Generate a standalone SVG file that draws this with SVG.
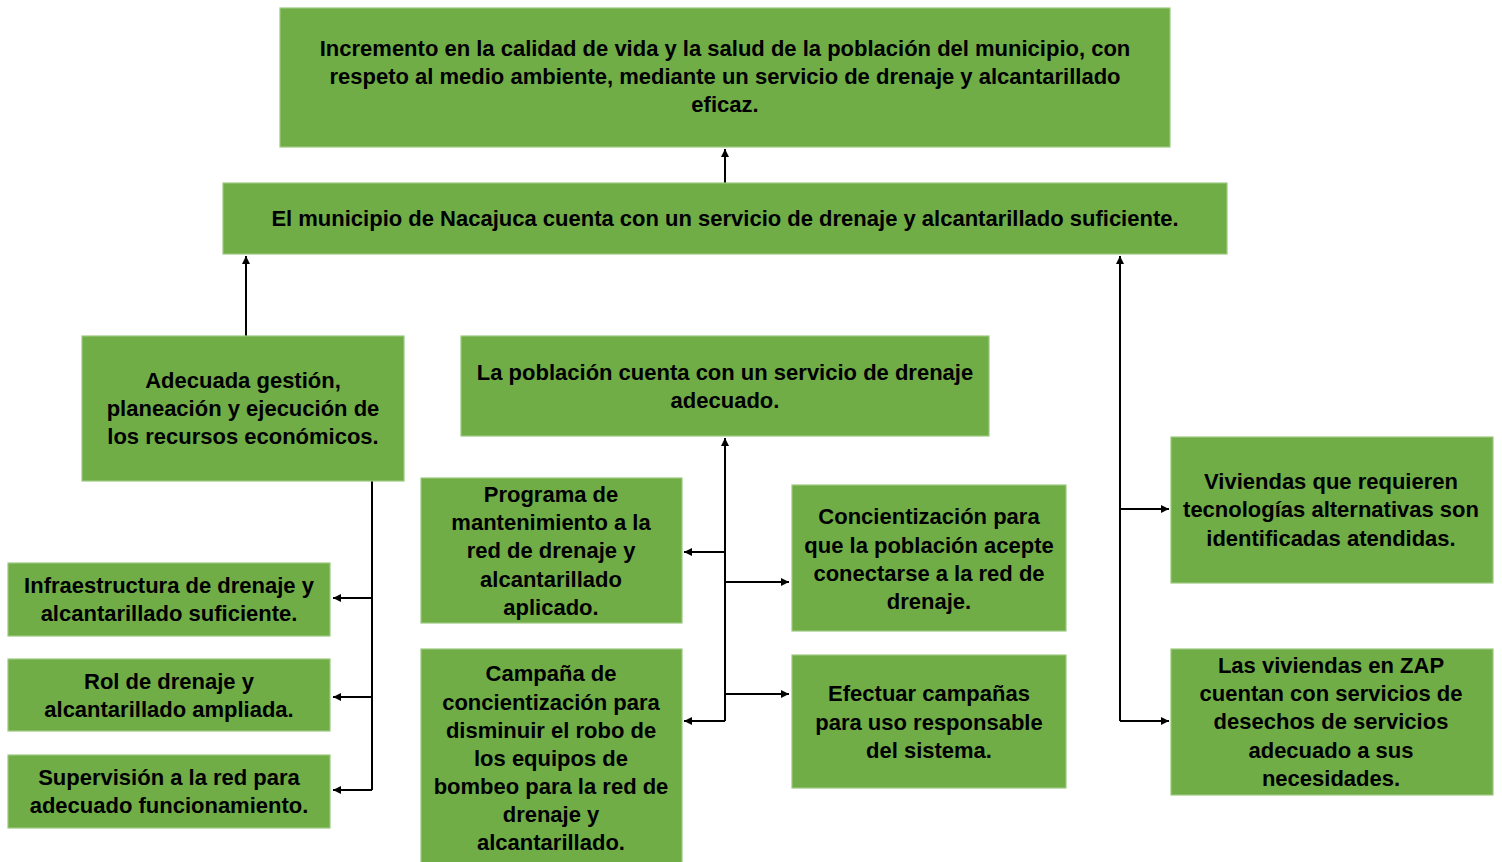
<svg xmlns="http://www.w3.org/2000/svg" width="1502" height="862" viewBox="0 0 1502 862">
<style>
.box{fill:#70AD47;stroke:#9CC97F;stroke-width:1.2}
text{font-family:"Liberation Sans",Arial,sans-serif;font-weight:bold;font-size:22px;fill:#000;text-anchor:middle}
.ln{fill:none;stroke:#000;stroke-width:2}
</style>
<defs>
<marker id="ah" markerUnits="userSpaceOnUse" markerWidth="10" markerHeight="10" refX="8" refY="4" orient="auto">
<path d="M0,0 L8,4 L0,8 Z" fill="#000"/>
</marker>
</defs>
<rect width="1502" height="862" fill="#fff"/>
<g id="connectors">
<path class="ln" d="M725,183 V149" marker-end="url(#ah)"/>
<path class="ln" d="M246,336 V256" marker-end="url(#ah)"/>
<path class="ln" d="M372,481 V790"/>
<path class="ln" d="M372,598 H333" marker-end="url(#ah)"/>
<path class="ln" d="M372,697 H333" marker-end="url(#ah)"/>
<path class="ln" d="M372,790 H333" marker-end="url(#ah)"/>
<path class="ln" d="M725,721 V438" marker-end="url(#ah)"/>
<path class="ln" d="M725,552 H684" marker-end="url(#ah)"/>
<path class="ln" d="M725,721 H684" marker-end="url(#ah)"/>
<path class="ln" d="M725,582 H789" marker-end="url(#ah)"/>
<path class="ln" d="M725,694 H789" marker-end="url(#ah)"/>
<path class="ln" d="M1120,721 V256" marker-end="url(#ah)"/>
<path class="ln" d="M1120,509 H1169" marker-end="url(#ah)"/>
<path class="ln" d="M1120,721 H1169" marker-end="url(#ah)"/>
</g>
<g id="fin">
<rect class="box" x="280" y="8" width="890" height="139"/>
<text x="725"><tspan x="725" y="56">Incremento en la calidad de vida y la salud de la población del municipio, con</tspan><tspan x="725" y="84">respeto al medio ambiente, mediante un servicio de drenaje y alcantarillado</tspan><tspan x="725" y="112">eficaz.</tspan></text>
</g>
<g id="proposito">
<rect class="box" x="223" y="183" width="1004" height="71"/>
<text x="725" y="226">El municipio de Nacajuca cuenta con un servicio de drenaje y alcantarillado suficiente.</text>
</g>
<g id="componente1">
<rect class="box" x="82" y="336" width="322" height="145"/>
<text><tspan x="243" y="388">Adecuada gestión,</tspan><tspan x="243" y="416">planeación y ejecución de</tspan><tspan x="243" y="444">los recursos económicos.</tspan></text>
</g>
<g id="componente2">
<rect class="box" x="461" y="336" width="528" height="100"/>
<text><tspan x="725" y="380">La población cuenta con un servicio de drenaje</tspan><tspan x="725" y="408">adecuado.</tspan></text>
</g>
<g id="actividad1">
<rect class="box" x="8" y="563" width="322" height="73"/>
<text><tspan x="169" y="593">Infraestructura de drenaje y</tspan><tspan x="169" y="621">alcantarillado suficiente.</tspan></text>
</g>
<g id="actividad2">
<rect class="box" x="8" y="659" width="322" height="72"/>
<text><tspan x="169" y="689">Rol de drenaje y</tspan><tspan x="169" y="717">alcantarillado ampliada.</tspan></text>
</g>
<g id="actividad3">
<rect class="box" x="8" y="755" width="322" height="73"/>
<text><tspan x="169" y="785">Supervisión a la red para</tspan><tspan x="169" y="813">adecuado funcionamiento.</tspan></text>
</g>
<g id="actividad4">
<rect class="box" x="421" y="478" width="261" height="145"/>
<text><tspan x="551" y="502">Programa de</tspan><tspan x="551" y="530">mantenimiento a la</tspan><tspan x="551" y="558">red de drenaje y</tspan><tspan x="551" y="587">alcantarillado</tspan><tspan x="551" y="615">aplicado.</tspan></text>
</g>
<g id="actividad5">
<rect class="box" x="421" y="649" width="261" height="220"/>
<text><tspan x="551" y="681">Campaña de</tspan><tspan x="551" y="710">concientización para</tspan><tspan x="551" y="738">disminuir el robo de</tspan><tspan x="551" y="766">los equipos de</tspan><tspan x="551" y="794">bombeo para la red de</tspan><tspan x="551" y="822">drenaje y</tspan><tspan x="551" y="850">alcantarillado.</tspan></text>
</g>
<g id="actividad6">
<rect class="box" x="792" y="485" width="274" height="146"/>
<text><tspan x="929" y="524">Concientización para</tspan><tspan x="929" y="553">que la población acepte</tspan><tspan x="929" y="581">conectarse a la red de</tspan><tspan x="929" y="609">drenaje.</tspan></text>
</g>
<g id="actividad7">
<rect class="box" x="792" y="655" width="274" height="133"/>
<text><tspan x="929" y="701">Efectuar campañas</tspan><tspan x="929" y="730">para uso responsable</tspan><tspan x="929" y="758">del sistema.</tspan></text>
</g>
<g id="componente3">
<rect class="box" x="1171" y="437" width="322" height="146"/>
<text><tspan x="1331" y="489">Viviendas que requieren</tspan><tspan x="1331" y="517">tecnologías alternativas son</tspan><tspan x="1331" y="546">identificadas atendidas.</tspan></text>
</g>
<g id="componente4">
<rect class="box" x="1171" y="649" width="322" height="146"/>
<text><tspan x="1331" y="673">Las viviendas en ZAP</tspan><tspan x="1331" y="701">cuentan con servicios de</tspan><tspan x="1331" y="729">desechos de servicios</tspan><tspan x="1331" y="758">adecuado a sus</tspan><tspan x="1331" y="786">necesidades.</tspan></text>
</g>
</svg>
